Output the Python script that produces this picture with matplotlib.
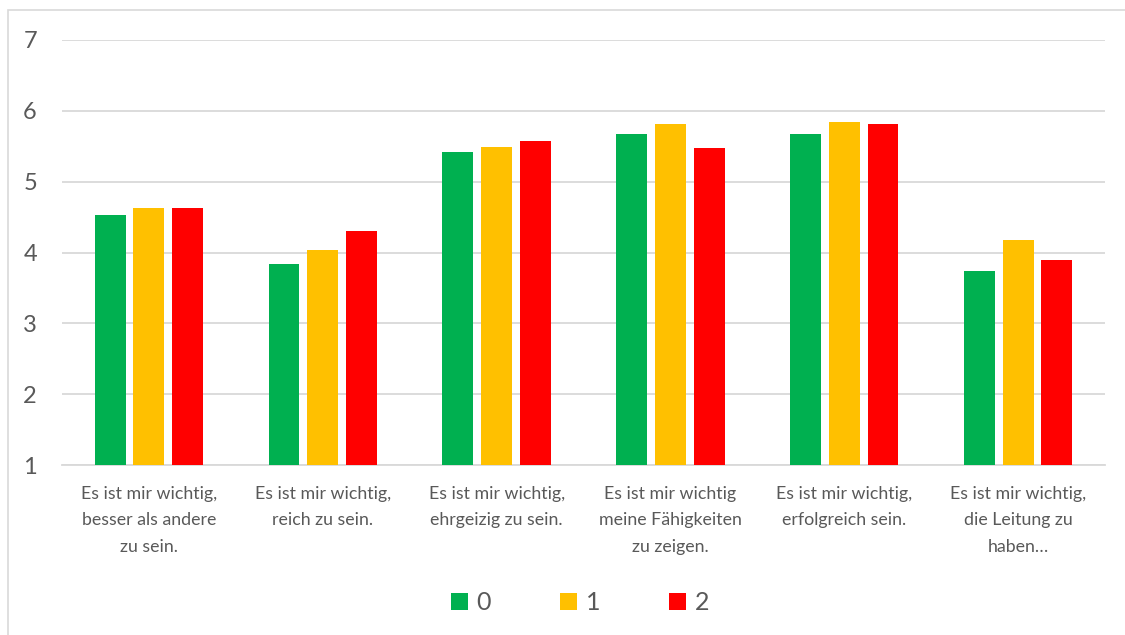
import matplotlib
matplotlib.use("Agg")
import matplotlib.pyplot as plt
from matplotlib.patches import Rectangle
import numpy as np

plt.rcParams['font.family'] = ['Lato', 'DejaVu Sans']

categories = [
    "Es ist mir wichtig,\nbesser als andere\nzu sein.",
    "Es ist mir wichtig,\nreich zu sein.",
    "Es ist mir wichtig,\nehrgeizig zu sein.",
    "Es ist mir wichtig\nmeine Fähigkeiten\nzu zeigen.",
    "Es ist mir wichtig,\nerfolgreich sein.",
    "Es ist mir wichtig,\ndie Leitung zu\nhaben…",
]
series_names = ["0", "1", "2"]
values_0 = [4.53, 3.84, 5.42, 5.67, 5.67, 3.74]
values_1 = [4.63, 4.03, 5.49, 5.82, 5.84, 4.17]
values_2 = [4.63, 4.30, 5.57, 5.47, 5.81, 3.89]
colors = ["#00B050", "#FFC000", "#FF0000"]
y_ticks = [1, 2, 3, 4, 5, 6, 7]

text_color = "#595959"
grid_color = "#D9D9D9"

fig = plt.figure(figsize=(11.25, 6.35), dpi=100)
ax = fig.add_axes([62 / 1125, 1 - 465 / 635, (1105 - 62) / 1125, 425 / 635])

# light chart-area frame
fig.patches.append(Rectangle((7.5 / 1125, -0.5), 2.0, 1.5 - 10 / 635,
                             transform=fig.transFigure, fill=False,
                             edgecolor=grid_color, linewidth=1.2, zorder=0))

x = np.arange(len(categories))
step = 0.223
width = 0.178
base = y_ticks[0]
for k, (vals, col, name) in enumerate(zip([values_0, values_1, values_2], colors, series_names)):
    heights = [v - base for v in vals]
    ax.bar(x + (k - 1) * step, heights, width, bottom=base, color=col,
           label=name, zorder=3)

ax.set_xlim(-0.5, len(categories) - 0.5)
ax.set_ylim(y_ticks[0], y_ticks[-1])
ax.set_yticks(y_ticks)
ax.set_yticklabels([str(t) for t in y_ticks])
ax.set_xticks(x)
ax.set_xticklabels(categories, fontsize=12.8, color=text_color, linespacing=1.8)
ax.tick_params(axis='x', length=0, pad=15)
ax.tick_params(axis='y', length=0, pad=18, labelsize=17, labelcolor=text_color)

ax.grid(axis='y', color=grid_color, linewidth=1.3, zorder=0)
ax.set_axisbelow(True)
for s in ["top", "right", "left"]:
    ax.spines[s].set_visible(False)
ax.spines["bottom"].set_color(grid_color)
ax.spines["bottom"].set_linewidth(1.3)

fig.legend(loc="center", bbox_to_anchor=(580 / 1125, 1 - 603 / 635), ncol=3,
           frameon=False, fontsize=18, labelcolor=text_color,
           handlelength=0.68, handleheight=0.68, handletextpad=0.35,
           columnspacing=2.75)

fig.savefig("out.png", dpi=100)
